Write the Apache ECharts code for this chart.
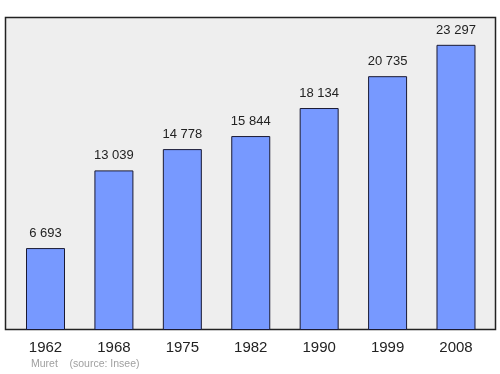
<!DOCTYPE html>
<html><head><meta charset="utf-8">
<script src="https://cdn.jsdelivr.net/npm/echarts@6/dist/echarts.min.js"></script>
<style>html,body{margin:0;padding:0;background:#fff}#c{width:500px;height:374px}</style>
</head><body><div id="c"></div>
<script>
const years = ['1962','1968','1975','1982','1990','1999','2008'];
const population = [6693, 13039, 14778, 15844, 18134, 20735, 23297];
const footer = 'Muret    (source: Insee)';

function fmt(v){ return String(v).replace(/\B(?=(\d{3})+(?!\d))/g, ' '); }

const chart = echarts.init(document.getElementById('c'), null, {renderer:'canvas'});
chart.setOption({
  animation:false,
  graphic:[
    {type:'rect', shape:{x:5.5,y:17.5,width:490,height:312}, style:{fill:'#eeeeee', stroke:'#222', lineWidth:1.5}, z:-10},
    {type:'text', left:31, top:358.5, style:{text:footer, fill:'#a0a0a0', font:'10.5px "Liberation Sans", Arial, sans-serif'}}
  ],
  grid:{left:11.3, right:9.8, top:17, bottom:44, containLabel:false},
  xAxis:{type:'category', data:years, boundaryGap:true,
    axisLine:{show:false}, axisTick:{show:false},
    axisLabel:{color:'#222', fontSize:15, fontFamily:'Liberation Sans, Arial, sans-serif', margin:10}},
  yAxis:{type:'value', min:0, max:25570, show:false, splitLine:{show:false}},
  series:[{type:'bar', data:population, barWidth:39,
    itemStyle:{color:'#7799ff', borderColor:'#1a1a33', borderWidth:1},
    label:{show:true, position:'top', distance:8, color:'#222', fontSize:13,
      fontFamily:'Liberation Sans, Arial, sans-serif', formatter:p=>fmt(p.value)}}]
});
</script></body></html>
